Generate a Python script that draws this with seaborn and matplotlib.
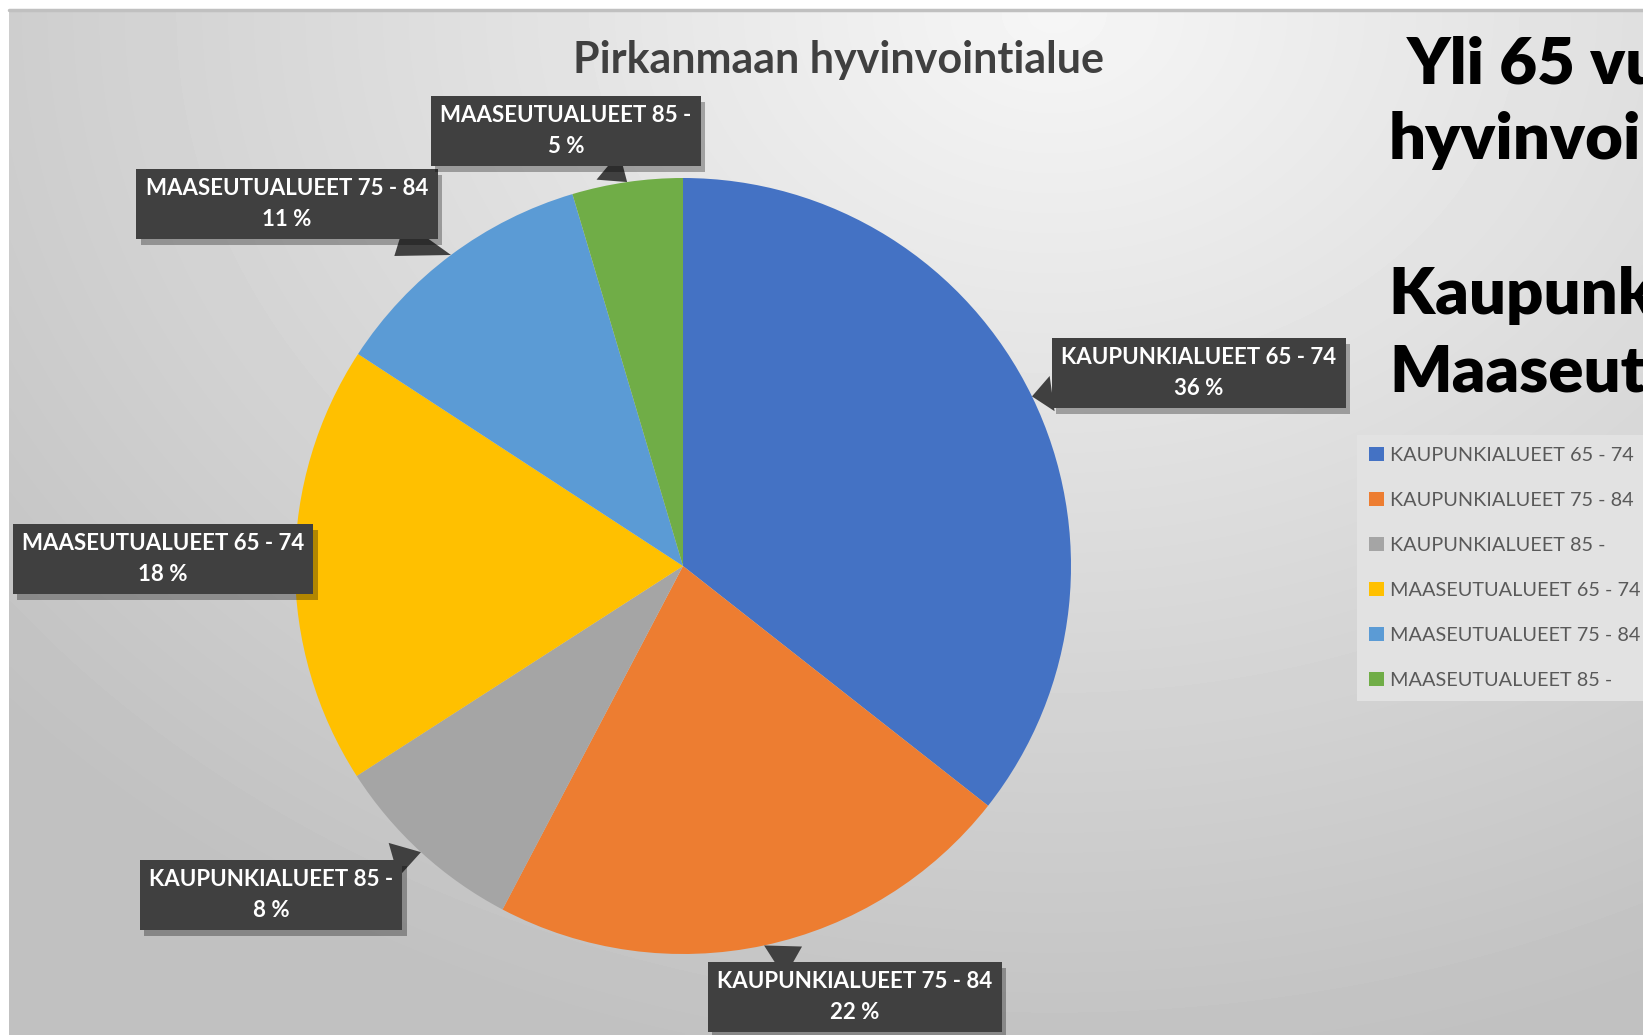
import numpy as np
import matplotlib.pyplot as plt
import matplotlib.patheffects as pe
from matplotlib.lines import Line2D
import seaborn as sns

# Data
categories = ['KAUPUNKIALUEET 65 - 74', 'KAUPUNKIALUEET 75 - 84', 'KAUPUNKIALUEET 85 -',
              'MAASEUTUALUEET 65 - 74', 'MAASEUTUALUEET 75 - 84', 'MAASEUTUALUEET 85 -']
shares = [35.6, 22.1, 8.2, 18.3, 11.2, 4.6]
pal = ['#4472C4', '#ED7D31', '#A5A5A5', '#FFC000', '#5B9BD5', '#70AD47']
title = 'Pirkanmaan hyvinvointialue'
side_lines = ['Yli 65 vuotiaat', 'hyvinvointialueella', 'Kaupunkialueet /', 'Maaseutualueet']

sns.set_theme(style='white')
plt.rcParams['font.family'] = ['Lato', 'DejaVu Sans']

W, H = 1643, 1035
fig = plt.figure(figsize=(W / 100, H / 100), dpi=100)
fig.patch.set_facecolor('white')

# slide background: soft radial gradient, white margin top/left
bg = fig.add_axes([9 / W, 0, 1 - 9 / W, 1 - 11 / H])
yy, xx = np.mgrid[0:1:300j, 0:1:500j]
d = np.sqrt(((xx - 0.64) * 1.3) ** 2 + (yy * 1.05) ** 2)
img = 0.965 - 0.19 * np.clip(d, 0, 1.1)
bg.imshow(img, cmap='gray', vmin=0, vmax=1, aspect='auto', interpolation='bilinear')
bg.axis('off')
fig.add_artist(Line2D([9 / W, 1], [1 - 10 / H] * 2, color='#c0c0c0', lw=2.5))

# pie
cx, cy, r = 683, 566, 388
ax = fig.add_axes([(cx - r) / W, (H - cy - r) / H, 2 * r / W, 2 * r / H])
wedges, _ = ax.pie(shares, colors=pal, startangle=90, counterclock=False,
                   radius=1, wedgeprops=dict(linewidth=0))
ax.set_xlim(-1, 1)
ax.set_ylim(-1, 1)
ax.set_aspect('equal')
ax.axis('off')

# data label boxes (centre positions in pixels)
label_pos = [(1199, 373), (855, 997), (271, 895), (163, 559), (287, 204), (566, 131)]
for w, cat, val, (px, py) in zip(wedges, categories, shares, label_pos):
    mid = np.deg2rad((w.theta1 + w.theta2) / 2)
    tip = (np.cos(mid), np.sin(mid))
    txt = ax.annotate(f'{cat}\n{round(val):d} %', xy=tip,
                      xytext=((px - cx) / r, (cy - py) / r),
                      ha='center', va='center', fontsize=16, fontweight='bold',
                      color='white', linespacing=1.55, annotation_clip=False,
                      bbox=dict(boxstyle='square,pad=0.42', fc='#404040', lw=0),
                      arrowprops=dict(arrowstyle='wedge,tail_width=1.6,shrink_factor=0.5',
                                      fc='#404040', ec='none', shrinkA=0, shrinkB=0))
    txt.get_bbox_patch().set_path_effects(
        [pe.SimplePatchShadow(offset=(3, -4), shadow_rgbFace='black', alpha=0.3), pe.Normal()])

fig.text(838 / W, 1 - 60 / H, title, ha='center', va='center', fontsize=31,
         fontweight='bold', color='#404040')

# big text at right, cut by the slide edge as in the original slide
side_x = [1407, 1389, 1389, 1389]
side_y = [84, 159, 314, 391]
for s, x, y in zip(side_lines, side_x, side_y):
    fig.text(x / W, 1 - y / H, s, ha='left', va='baseline', fontsize=47,
             fontweight='heavy', color='black')

leg = fig.legend(wedges, categories, loc='upper left',
                 bbox_to_anchor=(1357 / W, 1 - 435 / H), frameon=True,
                 facecolor='#e2e2e2', edgecolor='none', fancybox=False, framealpha=1,
                 fontsize=14.3, labelcolor='#595959', handlelength=0.75, handleheight=0.75,
                 handletextpad=0.3, labelspacing=1.4, borderpad=0.6, borderaxespad=0)

fig.savefig('out.png', dpi=100)
